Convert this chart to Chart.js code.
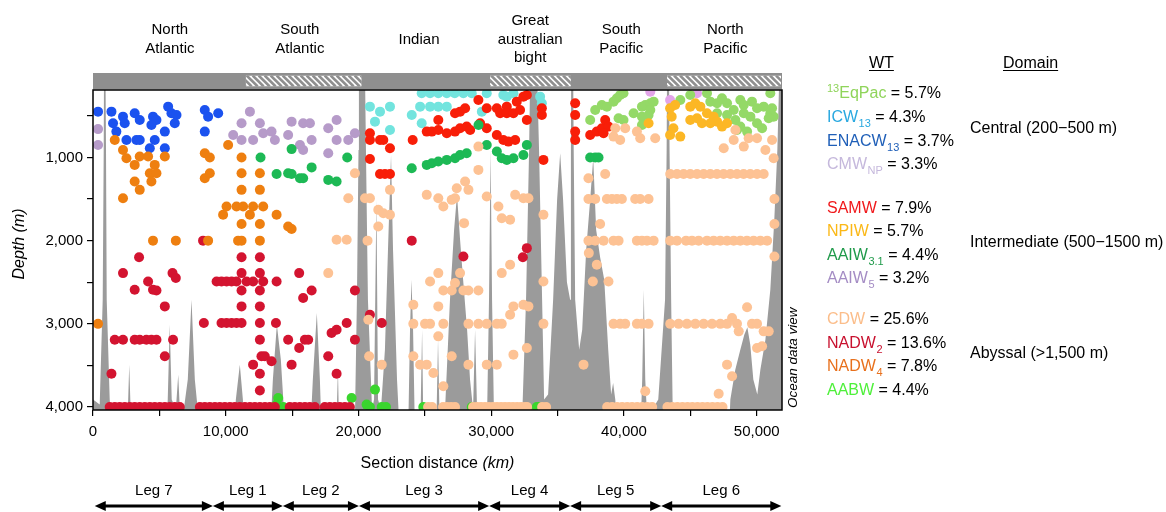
<!DOCTYPE html>
<html>
<head>
<meta charset="utf-8">
<script src="https://cdn.jsdelivr.net/npm/chart.js@4.4.1/dist/chart.umd.min.js"></script>
<style>
  body { margin: 0; background: #fff; }
</style>
</head>
<body>
<canvas id="grafico" width="1166" height="512"></canvas>
<script>
// Amostras por tipo de água: [distância (km), profundidade (m)]
const enacw13 = [[380,450],[1390,450],[1510,590],[1760,690],[2260,510],[2390,590],[3140,470],[3520,550],[2520,790],[3270,790],[3520,790],[4520,510],[4780,550],[4400,610],[4650,790],[4280,890],[5410,690],[5410,890],[5660,390],[5910,470],[6290,490],[6160,590],[8420,430],[8670,510],[9430,470],[8420,690]];

const aaiw5 = [[380,660],[380,850],[11820,450],[11190,590],[10560,730],[11190,790],[12060,790],[12570,590],[12820,710],[13450,690],[13700,790],[14700,730],[14960,570],[15830,590],[16340,590],[16470,790],[15590,850],[15830,910],[17720,650],[18350,550],[18350,790],[17720,950],[19230,790],[19730,710]];

const nadw4 = [[1640,790],[2260,910],[2520,1010],[3140,1090],[3520,990],[4150,990],[4650,1090],[4280,1190],[4780,1190],[4400,1290],[3140,1290],[3520,1390],[2260,1490],[5410,990],[8420,950],[8800,1000],[8420,1250],[8800,1190],[10180,850],[11190,1000],[11190,1190],[11190,1390],[12570,1190],[12570,1390],[10060,1590],[10810,1590],[11310,1590],[12060,1590],[12820,1590],[9800,1690],[11820,1690],[11190,1800],[12570,1800],[13830,1690],[14700,1830],[14960,1860],[4520,2000],[6240,2000],[8670,2000],[10930,2000],[11190,2000],[12570,2000],[380,3000]];

const aaiw31 = [[12620,1000],[14960,900],[13830,1200],[14700,1190],[14960,1200],[15590,1250],[15830,1250],[16470,1120],[17720,1270],[18350,1290],[19150,1000],[24010,1130],[25140,1090],[25520,1070],[26010,1050],[26650,1030],[27270,1010],[27650,970],[28150,950],[29040,610],[29660,850],[30420,930],[30790,1010],[31170,1030],[31670,1010],[32420,970],[32680,850],[37450,1000],[37830,1000],[38080,1000]];

const nadw2 = [[8290,2000],[3470,2200],[11190,2200],[12570,2200],[2260,2390],[5990,2390],[6240,2450],[11190,2390],[12570,2390],[15530,2390],[4150,2490],[9310,2490],[9680,2490],[10060,2490],[10440,2490],[10810,2490],[11570,2490],[12060,2490],[12820,2490],[13830,2490],[3140,2590],[4520,2590],[4780,2600],[11190,2600],[12570,2600],[16470,2600],[15830,2690],[19730,2600],[5410,2790],[11190,2790],[12570,2790],[8350,2990],[9680,2990],[10060,2990],[10440,2990],[10810,2990],[11190,2990],[12570,2990],[13780,2990],[19110,2990],[1640,3190],[2260,3190],[3140,3190],[3520,3190],[4020,3190],[4400,3190],[4780,3190],[6030,3190],[12570,3190],[14700,3190],[15960,3190],[16210,3190],[17970,3110],[18350,3070],[19730,3190],[15530,3290],[5410,3390],[12690,3390],[12940,3390],[13450,3450],[12060,3490],[14960,3490],[17720,3390],[1390,3600],[12570,3600],[18350,3600],[12570,3800],[24010,2000],[27900,2190],[32680,2090],[32380,2200],[20860,2890],[21750,2990],
  [1260,4000],[1640,4000],[2010,4000],[2390,4000],[2770,4000],[3140,4000],[3520,4000],[3900,4000],[4280,4000],[4650,4000],[5030,4000],[5410,4000],[5780,4000],[6160,4000],[6540,4000],
  [8050,4000],[8420,4000],[8800,4000],[9180,4000],[9550,4000],[9930,4000],[10310,4000],[10680,4000],[11060,4000],[11440,4000],[11820,4000],[12190,4000],[12570,4000],[12950,4000],[13320,4000],[13700,4000],
  [14820,4000],[15200,4000],[15580,4000],[15960,4000],[16330,4000],[16710,4000],[17460,4000],[17840,4000],[18220,4000],[18590,4000],[18970,4000],[19350,4000]];

const aabw = [[13950,3890],[13830,3970],[14330,4000],[19480,3890],[20610,3970],[21240,3790],[20860,4000],[21750,4000],[22070,4000],[24880,4000],[28530,4000],[33430,4000],[33550,4000]];

const samw = [[20860,710],[20860,790],[21620,790],[21870,790],[22370,890],[20860,1020],[21620,1200],[21990,1200],[22370,1200],[24080,790],[25140,690],[25520,690],[26010,550],[26010,670],[26650,710],[27270,470],[27650,450],[28030,410],[27270,690],[27650,650],[28150,630],[28410,670],[29030,310],[29660,410],[29660,650],[29160,590],[30420,410],[30670,470],[31170,390],[31170,470],[31670,470],[31920,330],[32420,270],[32680,250],[32170,430],[32680,550],[30420,730],[30910,790],[31290,810],[31800,790],[33810,490],[33810,410],[33930,1030],[36320,350],[36320,490],[36320,690],[36320,790],[37450,730],[37950,690],[38330,650],[38580,550],[38830,630],[38460,710]];

const icw13 = [[20860,390],[21620,450],[22370,390],[21240,570],[22370,670],[24010,490],[24640,390],[25390,390],[26010,390],[26650,390],[24760,590],[29290,450],[33810,350],[33680,270],[24760,230],[25390,230],[26010,230],[26650,230],[27250,230],[27900,230],[28530,230],[29660,230],[30910,250],[31170,270],[31670,230]];

const cdw = [[17720,2390],[19230,1490],[18350,1990],[19110,1990],[19730,1190],[20740,2950],[20800,3390],[20680,2000],
  [20490,1490],[20860,1490],[21490,1630],[21870,1670],[22370,1690],[21490,1830],[22370,1390],[21750,3490],[25140,1450],[26010,1490],[26390,1590],[27020,1510],[27270,1490],[27400,1370],[28030,1290],[28280,1390],[27950,1790],[29030,870],[29030,1150],[29660,1470],[30540,1590],[30790,1730],[31420,1750],[31800,1450],[32420,1490],[32800,1490],[33930,1690],
  [24130,2770],[24130,3000],[25010,3000],[25390,3000],[26390,3000],[26010,2790],[25390,2490],[26010,2390],[26390,2600],[27020,2600],[27270,2510],[27650,2390],[27900,2600],[28280,2600],[29030,2600],[28280,3000],[29030,3000],[29660,3000],[30420,3000],[30790,3000],[26010,3150],[24130,3390],[24640,3490],[25140,3490],[25640,3590],[26390,3750],[27020,3390],[28280,3490],[29660,3490],[30420,3490],[31670,3370],[32680,3290],[30790,2390],[31420,2290],[31420,2890],[31670,2790],[32420,2770],[32800,2790],[33930,2490],[33930,3000],
  [25240,4000],[25540,4000],[26370,4000],[26670,4000],[26970,4000],[27270,4000],[28630,4000],[28930,4000],[29230,4000],[29530,4000],[29830,4000],[30130,4000],[30430,4000],[30740,4000],[31040,4000],[31340,4000],[31640,4000],[31950,4000],[32250,4000],[32550,4000],[32700,4000],[33830,4000],[34130,4000],
  [39340,650],[39710,790],[40090,650],[40970,690],[41220,770],[42350,770],[39210,750],[37320,1250],[38580,1200],[37320,1500],[37830,1500],[38710,1500],[39090,1500],[39460,1500],[39840,1500],[40840,1500],[41220,1500],[41850,1500],[38200,1800],[37320,2000],[37830,2000],[38460,2000],[39210,2000],[39590,2000],[40970,2000],[41350,2000],[41730,2000],[42230,2000],[37350,2150],[37950,2290],[37650,2490],[38830,2490],[39210,3000],[39710,3000],[40090,3000],[40970,3000],[41350,3000],[41850,3000],[36950,3490],[41600,3810],
  [38730,4000],[39100,4000],[39480,4000],[39860,4000],[40240,4000],[40610,4000],[40990,4000],[41370,4000],[41750,4000],[42120,4000],
  [43480,1200],[43990,1200],[44490,1200],[44990,1200],[45500,1200],[46000,1200],[46500,1200],[47000,1200],[47500,1200],[48010,1200],[48510,1200],[49010,1200],[49510,1200],[50020,1200],[50520,1200],
  [51330,1500],[51330,1800],[48260,790],[49020,870],[49390,770],[50020,770],[51150,790],[50650,910],[51270,1010],[47510,890],[48390,670],
  [43480,2000],[43990,2000],[44670,2000],[45120,2000],[45620,2000],[46250,2000],[46750,2000],[47250,2000],[47760,2000],[48260,2000],[48760,2000],[49260,2000],[49760,2000],[50270,2000],[50780,2000],[51330,2190],
  [43480,3000],[44110,3000],[44740,3000],[45370,3000],[46000,3000],[46630,3000],[47250,3000],[47760,3000],[48140,2930],[48510,3000],[48640,3090],[49270,2800],[49640,3000],[50020,3000],[50520,3090],[50900,3090],[50020,3290],[50400,3270],[47760,3490],[48140,3630],[47130,3840],
  [43270,4000],[43640,4000],[44020,4000],[44400,4000],[44780,4000],[45150,4000],[45530,4000],[45910,4000],[46280,4000],[46660,4000],[47040,4000],[47420,4000]];

const eqpac13 = [[37450,550],[37830,430],[38330,370],[38710,390],[39210,330],[39460,290],[39710,250],[39960,230],[39590,530],[39960,550],[40720,470],[41350,390],[41600,370],[41980,350],[42230,330],[41350,510],[41980,430],[41350,610],[41850,490],[51020,230],[44240,310],[44990,250],[46250,230],[46500,330],[47010,350],[47380,290],[47760,350],[48260,430],[48760,310],[49020,370],[49640,330],[50020,410],[50520,390],[51020,470],[51270,510],[49020,470],[49520,510],[48390,550],[48760,630],[49270,690],[50020,590],[48510,670],[47760,490],[47010,470],[50400,650],[50900,530],[51150,410]];

const npiw = [[43470,410],[43850,370],[43590,510],[43720,650],[43470,730],[44240,750],[44990,390],[45370,350],[45750,390],[44990,550],[45500,530],[45870,590],[46250,470],[46750,510],[47010,570],[47380,630],[47760,590],[46500,590],[41850,590]];

const cmwnp = [[41980,210],[43470,310],[45500,230]];

// Batimetria ao longo da seção: [km, profundidade do fundo (m)]
const seafloor = [[0,3910],[505,3970],[731,2710],[807,910],[829,0],[942,0],[980,910],[1033,2710],[1259,3910],[1490,4400],
  [2470,4400],[2650,3910],[2730,3490],[2810,3910],[2920,4400],[5480,4400],[5630,3910],[5780,3010],[5930,3910],[6240,4030],[6420,3610],[6540,4030],[6840,4030],[7140,3670],[7420,2710],[7670,3670],[7890,4030],[8050,4400],
  [10610,4400],[10760,3910],[11060,3490],[11290,3910],[11440,4400],[13320,4400],[13550,3670],[13850,3010],[14150,3430],[14380,4030],[14530,4400],[16340,4400],[16560,3670],[16860,2870],[17090,3670],[17240,4400],[18300,4400],[18450,3550],[18560,4400],
  [19730,4150],[19880,2710],[20000,910],[20030,0],[20490,0],[20560,910],[20710,2710],[21020,4030],[21170,3910],[21350,1510],[21470,3910],[21690,4030],[21990,3310],[22220,2110],[22450,970],[22600,2110],[22900,3670],[23130,4400],
  [23730,4400],[23880,3070],[23990,2470],[24110,3070],[24260,4400],[24640,4400],[24790,3070],[24900,4400],[25840,4400],[25990,3190],[26140,4400],[26520,4030],[26890,2710],[27200,1870],[27420,1450],[27650,1990],[27880,2470],[28180,3070],[28400,3670],[28630,4030],[28780,3070],[28930,4030],
  [29680,4150],[29830,2710],[29950,910],[30060,2710],[30210,4150],[32320,4150],[32620,2710],[32850,910],[32930,0],[33450,0],[33600,910],[33830,2710],[33980,3910],[34280,3850],[34660,2710],[34960,1510],[35190,950],[35410,1510],[35700,2500],[35940,2710],[36000,910],[36020,0],[36170,0],[36210,910],[36320,2710],
  [36620,3310],[36850,3070],[37150,2110],[37450,1510],[37680,1010],[37900,1870],[38200,2200],[38510,2470],[38810,3310],[39030,3850],[39180,3710],[39340,3910],[39560,4400],
  [41220,4400],[41370,3670],[41490,2590],[41600,3670],[41830,4400],[42130,4030],[42580,3910],[43090,2710],[43210,910],[43240,0],[43390,0],[43430,910],[43550,2710],[43700,4400],
  [47880,4400],[48010,3910],[48380,3550],[48760,3310],[49060,3130],[49290,3040],[49510,3250],[49740,3670],[50040,3850],[50270,3550],[50650,3190],[51020,2590],[51320,1750],[51550,910],[51700,0],[52150,0]];

// Marcas dos eixos
const xTickValues = [0, 5000, 10000, 15000, 20000, 25000, 30000, 35000, 40000, 45000, 50000];
const yTickValues = [500, 1000, 1500, 2000, 2500, 3000, 3500, 4000];

// Legenda (WT) e domínios
const wtSup = ['13', '', '', '', '', '', '', '', '', '', '', ''];
const wtName = ['EqPac', 'ICW', 'ENACW', 'CMW', 'SAMW', 'NPIW', 'AAIW', 'AAIW', 'CDW', 'NADW', 'NADW', 'AABW'];
const wtSub = ['', '13', '13', 'NP', '', '', '3.1', '5', '', '2', '4', ''];
const wtShare = ['5.7', '4.3', '3.7', '3.3', '7.9', '5.7', '4.4', '3.2', '25.6', '13.6', '7.8', '4.4'];
const domains = ['Central (200\u2212500 m)', 'Intermediate (500\u22121500 m)', 'Abyssal (>1,500 m)'];

// Bacias, trechos hachurados e pernas do cruzeiro
const oceans = [['North', 'Atlantic'], ['South', 'Atlantic'], ['Indian'], ['Great', 'australian', 'bight'], ['South', 'Pacific'], ['North', 'Pacific']];
const oceanCenterKm = [5790, 15580, 24560, 32930, 39790, 47630];
const hatchedKm = [[11500, 20240], [29910, 36000], [43240, 51900]];
const legs = ['Leg 7', 'Leg 1', 'Leg 2', 'Leg 3', 'Leg 4', 'Leg 5', 'Leg 6'];
const legBoundsKm = [130, 9030, 14300, 20030, 29840, 35940, 42800, 51850];

const FONT = '"Liberation Sans", Arial, Helvetica, sans-serif';
Chart.defaults.font.family = FONT;
Chart.defaults.color = '#000';

const wtColors = ['#8fd45a', '#29a8e0', '#1f5fb8', '#c5b8dc', '#f0181b', '#fbb817', '#1f9a4a', '#a48cc4', '#fbbd8a', '#c8102e', '#e8701c', '#4ef03a'];
const wtRowY = [92, 116, 140, 163, 207, 230, 254, 277, 318, 342, 365, 389];
const domainRowY = [127, 241, 352];

const series = [
  { label: 'CDW', pts: cdw, color: '#fdc294' },
  { label: 'NADW4', pts: nadw4, color: '#ee7f10' },
  { label: 'NADW2', pts: nadw2, color: '#d31430' },
  { label: 'AABW', pts: aabw, color: '#3ad52e' },
  { label: 'AAIW3.1', pts: aaiw31, color: '#1db955' },
  { label: 'AAIW5', pts: aaiw5, color: '#b69bc9' },
  { label: 'SAMW', pts: samw, color: '#f81e08' },
  { label: 'NPIW', pts: npiw, color: '#fcb725' },
  { label: 'ICW13', pts: icw13, color: '#72e4de' },
  { label: '13EqPac', pts: eqpac13, color: '#94d967' },
  { label: 'CMWNP', pts: cmwnp, color: '#e2a4e8' },
  { label: 'ENACW13', pts: enacw13, color: '#1b52ef' }
];

const toXY = (arr) => arr.map(([x, y]) => ({ x, y }));

const datasets = series.map(s => ({
  label: s.label,
  data: toXY(s.pts),
  backgroundColor: s.color,
  borderWidth: 0,
  pointRadius: 5,
  order: 1
}));

datasets.push({
  type: 'line',
  label: 'Seafloor',
  data: toXY(seafloor),
  borderColor: 'transparent',
  borderWidth: 0,
  backgroundColor: '#9b9b9b',
  pointRadius: 0,
  fill: 'start',
  tension: 0,
  order: 20
});

function drawHatch(ctx, x1, x2, y1, y2) {
  ctx.save();
  ctx.beginPath();
  ctx.rect(x1, y1, x2 - x1, y2 - y1);
  ctx.clip();
  ctx.fillStyle = '#fff';
  ctx.fillRect(x1, y1, x2 - x1, y2 - y1);
  ctx.strokeStyle = '#8f8f8f';
  ctx.lineWidth = 2.6;
  const h = y2 - y1;
  for (let xx = x1 - h; xx < x2 + h; xx += 6) {
    ctx.beginPath();
    ctx.moveTo(xx, y1);
    ctx.lineTo(xx + h, y2);
    ctx.stroke();
  }
  ctx.restore();
}

function drawArrow(ctx, x1, x2, y) {
  const head = 11, half = 5;
  ctx.lineWidth = 3;
  ctx.beginPath();
  ctx.moveTo(x1 + head - 1, y);
  ctx.lineTo(x2 - head + 1, y);
  ctx.stroke();
  ctx.beginPath();
  ctx.moveTo(x1, y); ctx.lineTo(x1 + head, y - half); ctx.lineTo(x1 + head, y + half); ctx.closePath();
  ctx.fill();
  ctx.beginPath();
  ctx.moveTo(x2, y); ctx.lineTo(x2 - head, y - half); ctx.lineTo(x2 - head, y + half); ctx.closePath();
  ctx.fill();
}

const extras = {
  id: 'extras',
  afterDraw(chart) {
    const { ctx, chartArea: a, scales: { x } } = chart;
    ctx.save();

    // barra superior com trechos hachurados
    ctx.fillStyle = '#8f8f8f';
    ctx.fillRect(a.left, 73, a.right - a.left, 16.5);
    hatchedKm.forEach(([k1, k2]) => {
      drawHatch(ctx, x.getPixelForValue(k1), Math.min(x.getPixelForValue(k2), a.right - 1), 75.5, 86.5);
    });

    // moldura
    ctx.strokeStyle = '#000';
    ctx.lineWidth = 1.5;
    ctx.strokeRect(a.left, a.top, a.right - a.left, a.bottom - a.top);

    // nomes das bacias
    ctx.fillStyle = '#000';
    ctx.font = '15px ' + FONT;
    ctx.textAlign = 'center';
    ctx.textBaseline = 'alphabetic';
    oceans.forEach((lines, i) => {
      const cx = x.getPixelForValue(oceanCenterKm[i]);
      const y0 = 38 - (lines.length - 1) * 9.3;
      lines.forEach((t, j) => ctx.fillText(t, cx, y0 + j * 18.6 + 5.5));
    });

    // título do eixo x
    ctx.font = '16px ' + FONT;
    const t1 = 'Section distance ', t2 = '(km)';
    const w1 = ctx.measureText(t1).width;
    ctx.font = 'italic 16px ' + FONT;
    const w2 = ctx.measureText(t2).width;
    const sx = (a.left + a.right) / 2 - (w1 + w2) / 2;
    ctx.textAlign = 'left';
    ctx.font = '16px ' + FONT;
    ctx.fillText(t1, sx, 468);
    ctx.font = 'italic 16px ' + FONT;
    ctx.fillText(t2, sx + w1, 468);

    // título do eixo y
    ctx.save();
    ctx.translate(24, 244);
    ctx.rotate(-Math.PI / 2);
    ctx.textAlign = 'center';
    ctx.font = 'italic 16px ' + FONT;
    ctx.fillText('Depth (m)', 0, 0);
    ctx.restore();

    // Ocean data view
    ctx.save();
    ctx.translate(797, a.bottom);
    ctx.rotate(-Math.PI / 2);
    ctx.textAlign = 'left';
    ctx.font = 'italic 13.5px ' + FONT;
    ctx.fillText('Ocean data view', 2, 0);
    ctx.restore();

    // pernas do cruzeiro
    ctx.font = '15px ' + FONT;
    ctx.textAlign = 'center';
    legs.forEach((name, i) => {
      const x1 = x.getPixelForValue(legBoundsKm[i]);
      const x2 = x.getPixelForValue(legBoundsKm[i + 1]);
      ctx.fillText(name, (x1 + x2) / 2, 495);
      drawArrow(ctx, x1, x2, 506);
    });

    // legenda dos tipos de água
    ctx.textAlign = 'left';
    ctx.font = '16px ' + FONT;
    ctx.fillText('WT', 869, 68);
    ctx.fillText('Domain', 1003, 68);
    ctx.lineWidth = 1;
    ctx.beginPath();
    ctx.moveTo(869, 70.5); ctx.lineTo(869 + ctx.measureText('WT').width, 70.5);
    ctx.moveTo(1003, 70.5); ctx.lineTo(1003 + ctx.measureText('Domain').width, 70.5);
    ctx.stroke();

    wtName.forEach((name, i) => {
      let px = 827;
      const by = wtRowY[i] + 6;
      ctx.fillStyle = wtColors[i];
      if (wtSup[i]) {
        ctx.font = '11px ' + FONT;
        ctx.fillText(wtSup[i], px, by - 6);
        px += ctx.measureText(wtSup[i]).width;
      }
      ctx.font = '16px ' + FONT;
      ctx.fillText(name, px, by);
      px += ctx.measureText(name).width;
      if (wtSub[i]) {
        ctx.font = '11px ' + FONT;
        ctx.fillText(wtSub[i], px + 0.5, by + 5);
        px += ctx.measureText(wtSub[i]).width + 0.5;
      }
      ctx.font = '16px ' + FONT;
      ctx.fillStyle = '#000';
      ctx.fillText(' = ' + wtShare[i] + '%', px, by);
    });

    domains.forEach((d, i) => ctx.fillText(d, 970, domainRowY[i] + 6));

    ctx.restore();
  }
};

new Chart(document.getElementById('grafico').getContext('2d'), {
  type: 'scatter',
  data: { datasets },
  options: {
    responsive: false,
    animation: false,
    events: [],
    layout: { padding: { left: 0, right: 384, top: 90, bottom: 42 } },
    plugins: { legend: { display: false }, tooltip: { enabled: false } },
    scales: {
      x: {
        type: 'linear',
        min: 0,
        max: 51900,
        border: { display: false },
        grid: { drawOnChartArea: false, drawTicks: true, tickLength: 6, color: '#000', lineWidth: 1.2 },
        ticks: {
          autoSkip: false,
          maxRotation: 0,
          padding: 7,
          font: { size: 15 },
          callback: (v) => (v % 10000 === 0 ? v.toLocaleString('en-US') : '')
        },
        afterBuildTicks: (scale) => { scale.ticks = xTickValues.map(v => ({ value: v })); },
        afterFit: (scale) => { scale.height = 60; }
      },
      y: {
        type: 'linear',
        reverse: true,
        min: 190,
        max: 4035,
        border: { display: false },
        grid: { drawOnChartArea: false, drawTicks: true, tickLength: 6, color: '#000', lineWidth: 1.2 },
        ticks: {
          autoSkip: false,
          padding: 4,
          font: { size: 15 },
          callback: (v) => (v % 1000 === 0 ? v.toLocaleString('en-US') : '')
        },
        afterBuildTicks: (scale) => { scale.ticks = yTickValues.map(v => ({ value: v })); },
        afterFit: (scale) => { scale.width = 93; }
      }
    }
  },
  plugins: [extras]
});
</script>
</body>
</html>
